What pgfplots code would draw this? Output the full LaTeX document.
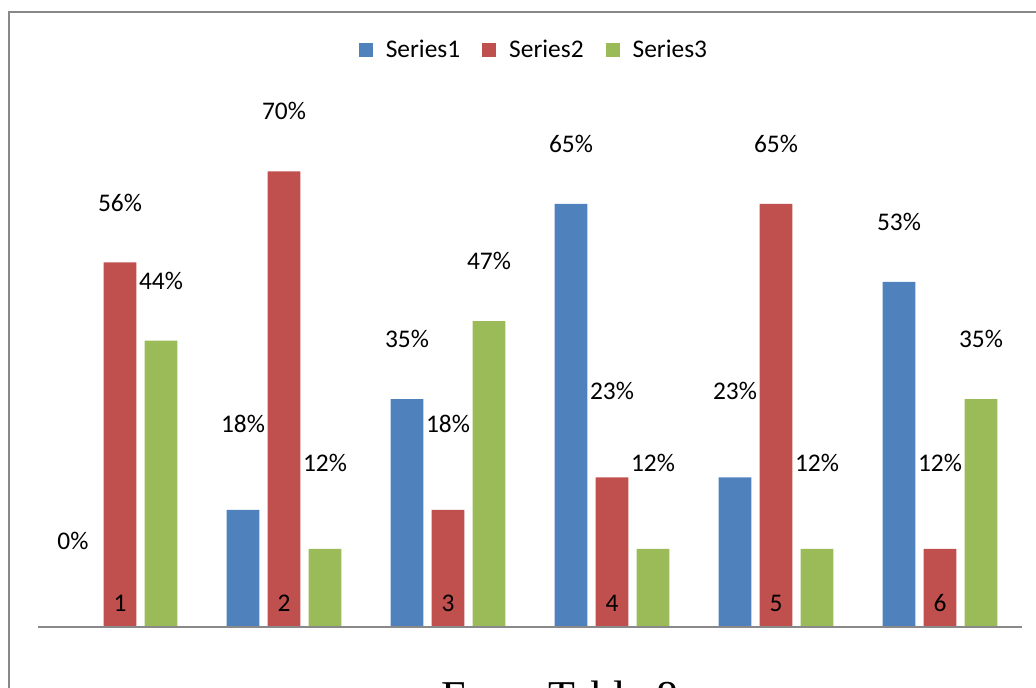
\documentclass[border=0pt]{standalone}
\usepackage{fontspec}
\setmainfont{Carlito}
\newfontfamily\timesfont{Liberation Serif}
\usepackage{pgfplots}
\pgfplotsset{compat=1.18}
\definecolor{sone}{HTML}{4F81BD}
\definecolor{stwo}{HTML}{C0504D}
\definecolor{sthree}{HTML}{9BBB59}
\definecolor{framegray}{HTML}{898989}
\begin{document}
\begin{tikzpicture}
\begin{scope}
\clip (-19pt,-30.5pt) rectangle (499pt,313.5pt);
\draw[framegray, line width=1pt] (-14.5pt,-60pt) rectangle (520pt,307.5pt);
\begin{axis}[
  scale only axis, width=492pt, height=260.4pt,
  xmin=0.5, xmax=6.5, ymin=0, ymax=80,
  axis x line=bottom, axis y line=none,
  x axis line style={-, draw=framegray, line width=1pt},
  xtick={1,2,3,4,5,6}, xticklabels={1,2,3,4,5,6}, major tick length=0pt,
  xticklabel style={anchor=center, yshift=12pt, font=\fontsize{12.7}{15}\selectfont},
  ybar, bar width=16.4pt, bar shift=0pt,
  clip=false, axis on top,
  /pgf/number format/assume math mode=true,
  point meta=y,
  nodes near coords={\pgfmathprintnumber{\pgfplotspointmeta}\%},
  visualization depends on={\thisrow{off}\as\myoff},
  visualization depends on={\thisrow{xo}\as\myxo},
  every node near coord/.append style={anchor=center, yshift=\myoff pt, xshift=\myxo pt, font=\fontsize{12.7}{15}\selectfont, text=black},
  legend columns=3,
  legend style={at={(rel axis cs:0.505,1)}, anchor=center, yshift=28pt, draw=none, fill=none,
    font=\fontsize{12.7}{15}\selectfont, column sep=4.5pt,
    /tikz/every even column/.append style={column sep=9pt}},
  legend image code/.code={\fill[#1, draw=none] (0pt,-3.5pt) rectangle (7pt,3.5pt);},
]
\addplot[fill=sone, draw=none] table[x=x, y=y] {
x y off xo
0.75 0 43 -3
1.75 18 43 0
2.75 35 30 0
3.75 65 30 0
4.75 23 43 0
5.75 53 30 0
};
\addplot[fill=stwo, draw=none] table[x=x, y=y] {
x y off xo
1 56 30 0
2 70 30 0
3 18 43 0
4 23 43 0
5 65 30 0
6 12 43 0
};
\addplot[fill=sthree, draw=none] table[x=x, y=y] {
x y off xo
1.25 44 30 0
2.25 12 43 0
3.25 47 30 0
4.25 12 43 0
5.25 12 43 0
6.25 35 30 0
};
\legend{Series1,Series2,Series3}
\end{axis}
\node[anchor=base, font={\timesfont\fontsize{22}{26}\selectfont}] at (261pt,-42.5pt) {From Table 8};
\end{scope}
\pgfresetboundingbox
\useasboundingbox (-19pt,-30.5pt) rectangle (499pt,313.5pt);
\end{tikzpicture}
\end{document}
